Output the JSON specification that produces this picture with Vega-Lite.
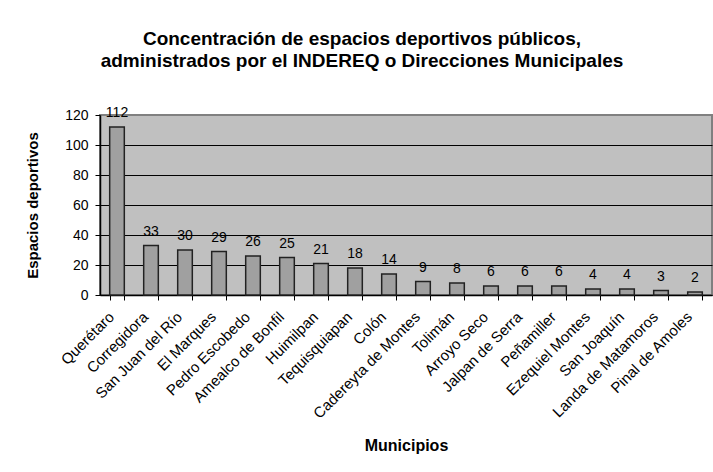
{
  "$schema": "https://vega.github.io/schema/vega-lite/v6.json",
  "width": 612,
  "height": 180,
  "autosize": {"type": "none"},
  "padding": {"left": 100, "top": 115, "right": 1, "bottom": 177},
  "background": "white",
  "title": {
    "text": ["Concentración de espacios deportivos públicos,", "administrados por el INDEREQ o Direcciones Municipales"],
    "font": "Liberation Sans",
    "fontSize": 19,
    "fontWeight": "bold",
    "color": "black",
    "anchor": "middle",
    "frame": "group",
    "dx": -44,
    "lineHeight": 22,
    "offset": 35
  },
  "config": {
    "font": "Liberation Sans",
    "view": {"fill": "#c0c0c0", "stroke": "#808080", "strokeWidth": 2}
  },
  "data": {
    "values": [
      {"municipio": "Querétaro", "espacios": 112},
      {"municipio": "Corregidora", "espacios": 33},
      {"municipio": "San Juan del Río", "espacios": 30},
      {"municipio": "El Marques", "espacios": 29},
      {"municipio": "Pedro Escobedo", "espacios": 26},
      {"municipio": "Amealco de Bonfil", "espacios": 25},
      {"municipio": "Huimilpan", "espacios": 21},
      {"municipio": "Tequisquiapan", "espacios": 18},
      {"municipio": "Colón", "espacios": 14},
      {"municipio": "Cadereyta de Montes", "espacios": 9},
      {"municipio": "Tolimán", "espacios": 8},
      {"municipio": "Arroyo Seco", "espacios": 6},
      {"municipio": "Jalpan de Serra", "espacios": 6},
      {"municipio": "Peñamiller", "espacios": 6},
      {"municipio": "Ezequiel Montes", "espacios": 4},
      {"municipio": "San Joaquín", "espacios": 4},
      {"municipio": "Landa de Matamoros", "espacios": 3},
      {"municipio": "Pinal de Amoles", "espacios": 2}
    ]
  },
  "encoding": {
    "x": {
      "field": "municipio",
      "type": "nominal",
      "sort": null,
      "scale": {"paddingInner": 0.57, "paddingOuter": 0.285},
      "axis": {
        "title": "Municipios",
        "titleFont": "Liberation Sans",
        "titleFontSize": 16,
        "titleFontWeight": "bold",
        "titleColor": "black",
        "titlePadding": 16,
        "labelAngle": -45,
        "labelAlign": "right",
        "labelBaseline": "middle",
        "labelOffset": -6,
        "labelFont": "Liberation Sans",
        "labelFontSize": 15,
        "labelColor": "black",
        "labelPadding": 14,
        "tickBand": "extent",
        "tickSize": 5,
        "tickColor": "black",
        "domainColor": "black",
        "domainWidth": 1.5,
        "grid": false
      }
    },
    "y": {
      "field": "espacios",
      "type": "quantitative",
      "scale": {"domain": [0, 120], "nice": false},
      "axis": {
        "title": "Espacios deportivos",
        "titleFont": "Liberation Sans",
        "titleFontSize": 15,
        "titleFontWeight": "bold",
        "titleColor": "black",
        "titlePadding": 24,
        "values": [0, 20, 40, 60, 80, 100, 120],
        "labelFont": "Liberation Sans",
        "labelFontSize": 14,
        "labelColor": "black",
        "labelPadding": 7,
        "tickSize": 5,
        "tickColor": "black",
        "domainColor": "black",
        "domainWidth": 1.5,
        "grid": true,
        "gridColor": {"condition": {"test": "datum.value == 120", "value": "#808080"}, "value": "black"},
        "gridWidth": 1.2
      }
    }
  },
  "layer": [
    {
      "mark": {"type": "bar", "fill": "#a0a0a0", "stroke": "#222222", "strokeWidth": 1.5}
    },
    {
      "mark": {"type": "text", "baseline": "alphabetic", "dy": -10, "fontSize": 14, "font": "Liberation Sans", "color": "black"},
      "encoding": {"text": {"field": "espacios", "type": "quantitative"}}
    }
  ]
}
